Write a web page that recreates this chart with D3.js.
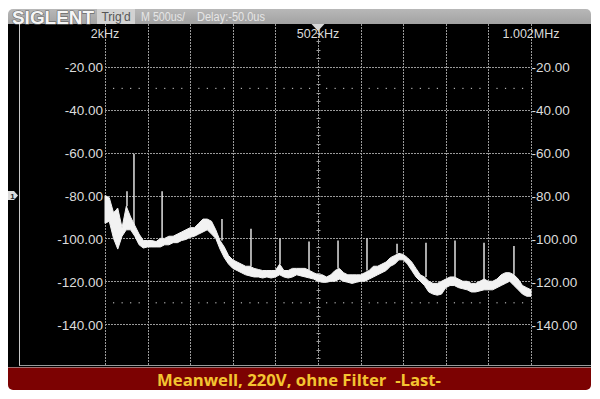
<!DOCTYPE html>
<html>
<head>
<meta charset="utf-8">
<script src="https://cdn.jsdelivr.net/npm/d3@7"></script>
<style>
  html, body { margin: 0; padding: 0; background: #fff; }
  svg { display: block; }
</style>
</head>
<body>
<svg id="scope" width="600" height="399"></svg>
<script>
// spectrum band, sampled every 10 kHz from 2 kHz to 1002 kHz (dB)
const bandStart = 2, bandStep = 10;
const bandHi = [-80,-81,-88,-86,-95,-85,-90,-94,-98,-101,-101,-101,-101.5,-100,-100,-99,-99,-98,-97,-96,
  -95,-95,-93,-91,-91,-92,-96,-101,-104,-108,-110,-111,-112,-113,-113,-114,-114.5,-115,-115,-115,
  -115,-112,-115,-115,-114,-114,-114,-114,-115,-116,-117,-117,-118,-117,-115,-114,-116,-117,-117,-117,
  -117,-116,-115,-113,-113,-112,-111,-109,-108,-107,-107.5,-109,-111,-114,-117,-118,-120,-121,-121,-120,
  -119,-118,-118,-119,-120,-120,-121,-121,-120,-119,-120,-120,-119,-117,-116,-116,-117,-119,-122,-123,-124];
const bandLo = [-93,-92,-100,-105,-99,-96,-96,-99,-103,-104.5,-104,-104,-104,-104,-103,-103,-102,-102,-101,-100.5,
  -99.5,-99,-98,-97,-96,-98,-100,-105,-109,-112,-114,-115,-116,-117,-117.5,-118,-118,-118.5,-118,-118.5,
  -118,-117,-118,-118.5,-118,-117,-117.5,-118,-118.5,-119,-120,-120.5,-120.5,-120,-120,-119,-120,-120.5,-121,-120.5,
  -120,-120,-119,-118,-117,-116,-115,-113,-112,-110,-110,-112,-115,-118,-120,-122,-125,-126,-126.5,-126,
  -123,-122,-122,-123,-123.5,-124,-125,-125,-124.5,-124,-124,-124,-123,-122,-121,-120,-122,-124,-126,-127,-127];

// narrow spurs (kHz, dB)
const spurFreq = [31, 53.6, 70, 136, 276.6, 344.7, 412.8, 480.9, 549, 617, 687.5, 755.5, 823.6, 891.7, 962];
const spurLevel = [-87, -78, -60.5, -78, -91, -95.5, -100, -101.5, -101, -100, -102.5, -102, -101, -102, -103.5];

const levelTicks = [-20, -40, -60, -80, -100, -120, -140];
const freqGrid = [2, 102, 202, 302, 402, 502, 602, 702, 802, 902, 1002];
const freqLabels = [[2, "2kHz"], [502, "502kHz"], [1002, "1.002MHz"]];
const dotRows = [-30, -130];

const title = "Meanwell, 220V, ohne Filter  -Last-";
const topItems = ["Trig'd", "M 500us/", "Delay:-50.0us"];

const svg = d3.select('#scope');
const x = d3.scaleLinear().domain([2, 1002]).range([105, 531]);
const y = d3.scaleLinear().domain([0, -160]).range([24, 367]);

const defs = svg.append('defs');
const grad = defs.append('linearGradient').attr('id', 'bar').attr('x1', 0).attr('x2', 0).attr('y1', 0).attr('y2', 1);
grad.append('stop').attr('offset', '0%').attr('stop-color', '#b8b8b8');
grad.append('stop').attr('offset', '100%').attr('stop-color', '#8c8c8c');

// frame: top bar, screen, bottom banner
svg.append('rect').attr('x', 8).attr('y', 9).attr('width', 583).attr('height', 30).attr('rx', 5).attr('fill', 'url(#bar)');
svg.append('rect').attr('x', 8).attr('y', 355).attr('width', 583).attr('height', 35).attr('rx', 5).attr('fill', '#7c0202');
svg.append('rect').attr('x', 8).attr('y', 24).attr('width', 583).attr('height', 343).attr('fill', '#000');
svg.append('line').attr('x1', 8).attr('x2', 591).attr('y1', 367.5).attr('y2', 367.5).attr('stroke', '#a07070').attr('stroke-width', 1);

// top bar texts
svg.append('text').attr('x', 12).attr('y', 23.5)
  .attr('font-family', 'Liberation Sans').attr('font-weight', 'bold').attr('font-size', 18)
  .attr('textLength', 82).attr('lengthAdjust', 'spacingAndGlyphs')
  .attr('fill', '#f6f6f6').attr('stroke', '#6a6a6a').attr('stroke-width', 1.2)
  .attr('paint-order', 'stroke')
  .text('SIGLENT');
svg.append('rect').attr('x', 97).attr('y', 9).attr('width', 38).attr('height', 15).attr('fill', '#d2d2d2');
svg.append('text').attr('x', 116).attr('y', 21)
  .attr('text-anchor', 'middle').attr('font-family', 'Liberation Sans').attr('font-size', 12)
  .attr('fill', '#555').text(topItems[0]);
svg.append('text').attr('x', 141).attr('y', 21)
  .attr('font-family', 'Liberation Sans').attr('font-size', 12)
  .attr('textLength', 44).attr('lengthAdjust', 'spacingAndGlyphs')
  .attr('fill', '#e6e6e6').text(topItems[1]);
svg.append('text').attr('x', 197).attr('y', 21)
  .attr('font-family', 'Liberation Sans').attr('font-size', 12)
  .attr('textLength', 68).attr('lengthAdjust', 'spacingAndGlyphs')
  .attr('fill', '#e6e6e6').text(topItems[2]);

// outer screen border lines
svg.append('line').attr('x1', 19.5).attr('x2', 19.5).attr('y1', 24).attr('y2', 366).attr('stroke', '#c8c8c8');
svg.append('line').attr('x1', 19.5).attr('x2', 591).attr('y1', 365.5).attr('y2', 365.5).attr('stroke', '#9a9a9a');

// grid
const grid = svg.append('g');
grid.selectAll('.vgrid').data(freqGrid).enter().append('line')
  .attr('class', 'vgrid')
  .attr('x1', d => Math.round(x(d)) + 0.5).attr('x2', d => Math.round(x(d)) + 0.5)
  .attr('y1', 24).attr('y2', 366)
  .attr('stroke', '#9a9a9a').attr('stroke-dasharray', '2,1');
grid.selectAll('.hgrid').data(levelTicks).enter().append('line')
  .attr('class', 'hgrid')
  .attr('x1', x(2)).attr('x2', x(1002))
  .attr('y1', d => Math.round(y(d)) + 0.5).attr('y2', d => Math.round(y(d)) + 0.5)
  .attr('stroke', '#9a9a9a').attr('stroke-dasharray', '2,1');

// minor ticks on the centre line
const cx = Math.round(x(502)) + 0.5;
grid.selectAll('.ctick').data(d3.range(-4, -160, -4)).enter().append('line')
  .attr('x1', cx - 2).attr('x2', cx + 2)
  .attr('y1', d => Math.round(y(d)) + 0.5).attr('y2', d => Math.round(y(d)) + 0.5)
  .attr('stroke', '#9a9a9a');

// dotted rows
dotRows.forEach(r => {
  const pts = d3.range(2, 1003, 20).filter(f => (f - 2) % 100 !== 0);
  grid.selectAll(null).data(pts).enter().append('rect')
    .attr('x', f => x(f) - 0.5).attr('y', y(r) - 0.5)
    .attr('width', 1.2).attr('height', 1.2).attr('fill', '#b0b0b0');
});

// top marker triangle
svg.append('path')
  .attr('d', `M${cx - 7},24 L${cx + 6},24 L${cx - 0.5},31 Z`)
  .attr('fill', '#d8d8d8');

// channel marker
const my = y(-80);
svg.append('path')
  .attr('d', `M8,${my - 4.5} L14,${my - 4.5} L18,${my} L14,${my + 4.5} L8,${my + 4.5} Z`)
  .attr('fill', '#dcdcdc');
svg.append('text').attr('x', 12.5).attr('y', my + 3.2).attr('text-anchor', 'middle')
  .attr('font-family', 'Liberation Sans').attr('font-size', 8).attr('font-weight', 'bold')
  .attr('fill', '#222').text('1');

// level axes
const fmt = d => d.toFixed(2);
const left = svg.append('g').attr('transform', `translate(${x(2)},0)`)
  .call(d3.axisLeft(y).tickValues(levelTicks).tickFormat(fmt).tickSize(0).tickPadding(2));
const right = svg.append('g').attr('transform', `translate(${x(1002)},0)`)
  .call(d3.axisRight(y).tickValues(levelTicks).tickFormat(fmt).tickSize(0).tickPadding(0.5));
[left, right].forEach(g => {
  g.select('.domain').remove();
  g.selectAll('text').attr('font-family', 'Liberation Sans').attr('font-size', 13.5)
    .attr('fill', '#dcdcdc').attr('dy', '0.36em');
});

// frequency labels
svg.selectAll('.flabel').data(freqLabels).enter().append('text')
  .attr('x', d => x(d[0])).attr('y', 37.5)
  .attr('text-anchor', 'middle')
  .attr('font-family', 'Liberation Sans').attr('font-size', 12.5)
  .attr('fill', '#dcdcdc').text(d => d[1]);

// spectrum band
const band = bandHi.map((h, i) => ({ f: bandStart + i * bandStep, hi: h, lo: bandLo[i] }));
svg.append('path').datum(band)
  .attr('d', d3.area().x(d => x(d.f)).y0(d => y(d.lo)).y1(d => y(d.hi)))
  .attr('fill', '#f2f2f2').attr('stroke', '#f2f2f2').attr('stroke-width', 1);

// spurs
const baseAt = f => {
  const i = Math.min(band.length - 1, Math.round((f - bandStart) / bandStep));
  return band[i].hi;
};
svg.selectAll('.spur').data(spurFreq).enter().append('line')
  .attr('x1', d => x(d)).attr('x2', d => x(d))
  .attr('y1', d => y(baseAt(d))).attr('y2', (d, i) => y(spurLevel[i]))
  .attr('stroke', '#f2f2f2').attr('stroke-width', 1.4);

// banner title
svg.append('text').attr('x', 299).attr('y', 386)
  .attr('text-anchor', 'middle')
  .style('white-space', 'pre')
  .attr('font-family', 'Open Sans').attr('font-weight', 'bold').attr('font-size', 15.5)
  .attr('textLength', 284).attr('lengthAdjust', 'spacingAndGlyphs')
  .attr('fill', '#f4c431').text(title);
</script>
</body>
</html>
